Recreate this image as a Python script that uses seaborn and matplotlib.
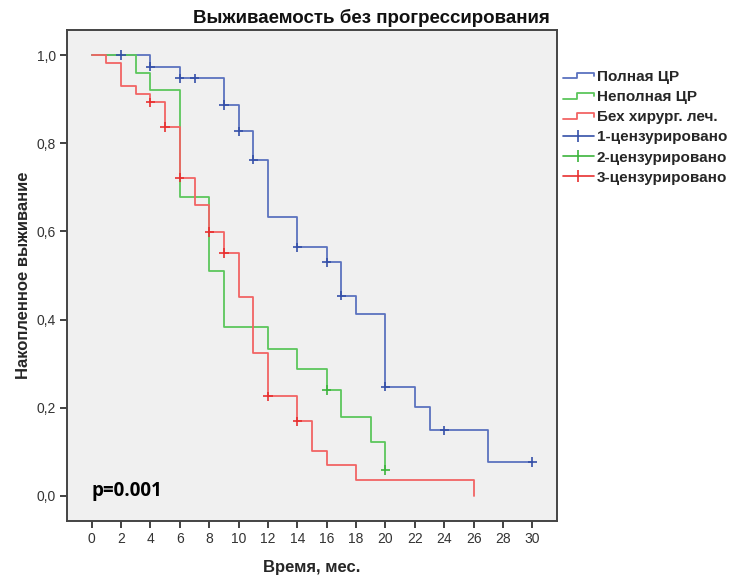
import numpy as np
import pandas as pd
import matplotlib
matplotlib.use("Agg")
import matplotlib.pyplot as plt
from matplotlib.lines import Line2D
from matplotlib.legend_handler import HandlerBase
import seaborn as sns

# ---- data ----
groups = ["Полная ЦР", "Неполная ЦР", "Бех хирург. леч."]

blue_t = [0, 4, 6, 9, 10, 11, 12, 14, 16, 17, 18, 20, 22, 23, 27, 30]
blue_s = [1.0, 0.974, 0.947, 0.887, 0.827, 0.763, 0.632, 0.564, 0.530, 0.454, 0.413, 0.248, 0.201, 0.149, 0.077, 0.077]
blue_ct = [2, 4, 6, 7, 9, 10, 11, 14, 16, 17, 20, 24, 30]
blue_cs = [1.0, 0.974, 0.947, 0.947, 0.887, 0.827, 0.763, 0.564, 0.530, 0.454, 0.248, 0.149, 0.077]

green_t = [0, 3, 4, 6, 8, 9, 12, 14, 16, 17, 19, 20]
green_s = [1.0, 0.960, 0.921, 0.679, 0.511, 0.383, 0.334, 0.287, 0.240, 0.180, 0.122, 0.059]
green_ct = [16, 20]
green_cs = [0.240, 0.059]

red_t = [0, 1, 2, 3, 4, 5, 6, 7, 8, 9, 10, 11, 12, 14, 15, 16, 18, 26]
red_s = [1.0, 0.981, 0.929, 0.911, 0.893, 0.837, 0.722, 0.659, 0.599, 0.551, 0.451, 0.325, 0.226, 0.169, 0.102, 0.070, 0.035, 0.0]
red_ct = [4, 5, 6, 8, 9, 12, 14]
red_cs = [0.893, 0.837, 0.722, 0.599, 0.551, 0.226, 0.169]

censor_labels = ["1-цензурировано", "2-цензурировано", "3-цензурировано"]
x_ticks = list(range(0, 31, 2))
y_ticks = [0.0, 0.2, 0.4, 0.6, 0.8, 1.0]
y_tick_labels = ["0,0", "0,2", "0,4", "0,6", "0,8", "1,0"]

line_colors = ["#5b72bf", "#5cc65c", "#f26464"]
mark_colors = ["#3550a8", "#3cb43c", "#e83030"]

# ---- frames ----
curves = pd.concat([
    pd.DataFrame({"time": blue_t, "surv": blue_s, "group": groups[0]}),
    pd.DataFrame({"time": green_t, "surv": green_s, "group": groups[1]}),
    pd.DataFrame({"time": red_t, "surv": red_s, "group": groups[2]}),
], ignore_index=True)
cens = pd.concat([
    pd.DataFrame({"time": blue_ct, "surv": blue_cs, "group": censor_labels[0]}),
    pd.DataFrame({"time": green_ct, "surv": green_cs, "group": censor_labels[1]}),
    pd.DataFrame({"time": red_ct, "surv": red_cs, "group": censor_labels[2]}),
], ignore_index=True)

sns.set_theme(style="ticks")
plt.rcParams["font.family"] = ["Liberation Sans", "DejaVu Sans"]

fig = plt.figure(figsize=(7.3, 5.76), dpi=100)
ax = fig.add_axes([67 / 730, 1 - 521 / 576, (556.5 - 67) / 730, (521 - 30) / 576])
ax.set_facecolor("#f0f0f0")

sns.lineplot(data=curves, x="time", y="surv", hue="group", hue_order=groups,
             palette=line_colors, drawstyle="steps-post", estimator=None,
             sort=False, linewidth=1.3, legend=False, ax=ax)
sns.scatterplot(data=cens, x="time", y="surv", hue="group", hue_order=censor_labels,
                palette=mark_colors, marker="+", s=45, linewidth=1.2,
                legend=False, ax=ax, zorder=5)

ax.set_xlim(-1.68, 31.64)
ax.set_ylim(-0.057, 1.057)
ax.set_xticks(x_ticks)
ax.set_xticklabels([str(v) for v in x_ticks])
ax.set_yticks(y_ticks)
ax.set_yticklabels(y_tick_labels)
ax.tick_params(axis="both", length=5, width=1.3, color="#333333",
               labelsize=10, labelcolor="#333333", pad=3)
for sp in ax.spines.values():
    sp.set_color("#444444")
    sp.set_linewidth(1.4)

ax.set_xlabel("Время, мес.", fontsize=12, fontweight="bold", labelpad=10)
ax.set_ylabel("Накопленное выживание", fontsize=12, fontweight="bold", labelpad=4)
fig.text(371 / 730, 1 - 18 / 576, "Выживаемость без прогрессирования", fontsize=13.5,
         fontweight="bold", ha="center", va="center", color="#111111")

ax.text(0, 0.011, "p=0.001", fontsize=13.5, fontweight="bold", color="black",
        ha="left", va="center", family=["Open Sans", "DejaVu Sans"])


class StepHandler(HandlerBase):
    def create_artists(self, legend, orig_handle, xdescent, ydescent, width, height, fontsize, trans):
        x0 = -xdescent
        y0 = -ydescent
        xs = [x0, x0 + 0.45 * width, x0 + 0.45 * width, x0 + width, x0 + width]
        ys = [y0 + 0.25 * height, y0 + 0.25 * height, y0 + 0.8 * height, y0 + 0.8 * height, y0 + 0.45 * height]
        ln = Line2D(xs, ys, color=orig_handle.get_color(), linewidth=1.3, transform=trans)
        return [ln]


handles = [Line2D([0], [0], color=c) for c in line_colors]
handles += [Line2D([0], [0], color=c, marker="|", markersize=8, markeredgewidth=1.2, linewidth=1.2)
            for c in mark_colors]
handler_map = {h: StepHandler() for h in handles[:3]}
fig.legend(handles, groups + censor_labels, handler_map=handler_map,
           loc="upper left", bbox_to_anchor=(557 / 730, 1 - 64 / 576),
           frameon=False, prop={"weight": "bold", "size": 11},
           handlelength=2.0, handletextpad=0.2, labelspacing=0.4, borderaxespad=0)

fig.savefig("out.png", dpi=100)
